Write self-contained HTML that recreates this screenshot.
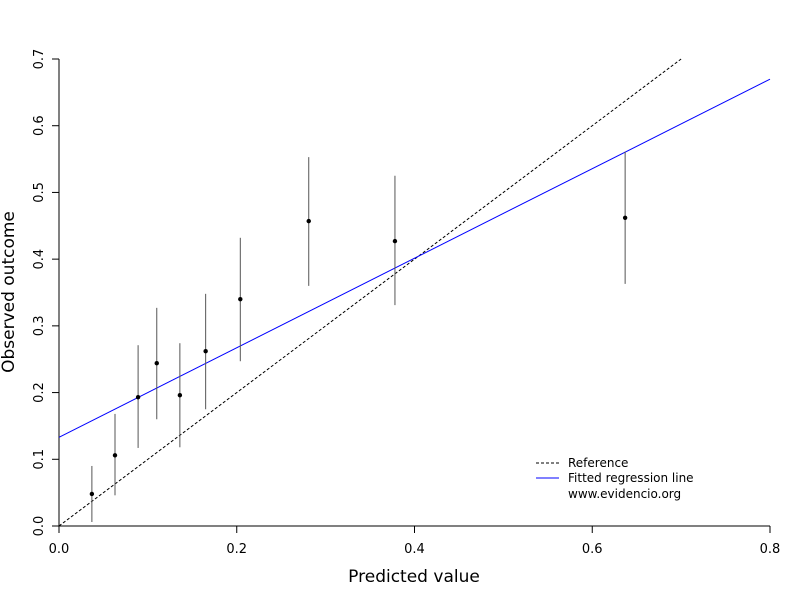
<!DOCTYPE html>
<html><head><meta charset="utf-8"><style>
body{margin:0;background:#fff}
svg text{font-family:"DejaVu Sans","Liberation Sans",sans-serif;fill:#000}
</style></head><body>
<svg id="chart" width="800" height="600">
<g id="axes"></g><g id="marks"></g>
<g>
<line x1="536" y1="463" x2="559" y2="463" stroke="#000" stroke-dasharray="3,2"/>
<text x="568" y="467" font-size="12">Reference</text>
<line x1="536" y1="478" x2="559" y2="478" stroke="#0000ff"/>
<text x="568" y="482" font-size="12">Fitted regression line</text>
<text x="568" y="498" font-size="12">www.evidencio.org</text>
</g>
<text x="414" y="582" font-size="17" text-anchor="middle">Predicted value</text>
<text transform="translate(14,292) rotate(-90)" font-size="17" text-anchor="middle">Observed outcome</text>
</svg>
<script>
const predicted=[0.037,0.063,0.089,0.110,0.136,0.165,0.204,0.281,0.378,0.637];
const observed=[0.048,0.106,0.193,0.244,0.196,0.262,0.340,0.457,0.427,0.462];
const lower=[0.006,0.046,0.117,0.160,0.118,0.175,0.247,0.360,0.331,0.363];
const upper=[0.090,0.168,0.271,0.327,0.274,0.348,0.432,0.553,0.525,0.561];
const xTicks=[0,0.2,0.4,0.6,0.8];
const xTickLabels=["0.0","0.2","0.4","0.6","0.8"];
const yTicks=[0,0.1,0.2,0.3,0.4,0.5,0.6,0.7];
const yTickLabels=["0.0","0.1","0.2","0.3","0.4","0.5","0.6","0.7"];
const fitIntercept=0.133, fitSlope=0.671;
const refRange=[0,0.7];
const X=v=>59+v/0.8*711, Y=v=>526-v/0.7*467;
const NS="http://www.w3.org/2000/svg";
function mk(parent,tag,attrs){const e=document.createElementNS(NS,tag);for(const k in attrs)e.setAttribute(k,attrs[k]);document.getElementById(parent).appendChild(e);return e;}
let e;
e=mk("axes","line",{x1:X(0),y1:526,x2:X(0.8),y2:526,stroke:"#000"});


e=mk("axes","line",{x1:59,y1:Y(0),x2:59,y2:Y(0.7),stroke:"#000"});


xTicks.forEach((t,i)=>{
 e=mk("axes","line",{x1:X(t),y1:526,x2:X(t),y2:533,stroke:"#000"});
 
 
 e=mk("axes","text",{x:X(t),y:553,"font-size":13,"text-anchor":"middle"});e.textContent=xTickLabels[i];
 
 
});
yTicks.forEach((t,i)=>{
 e=mk("axes","line",{x1:52,y1:Y(t),x2:59,y2:Y(t),stroke:"#000"});
 
 
 e=mk("axes","text",{transform:`translate(43,${Y(t)}) rotate(-90)`,"font-size":13,"text-anchor":"middle"});e.textContent=yTickLabels[i];
 
 
});
e=mk("marks","line",{x1:X(refRange[0]),y1:Y(refRange[0]),x2:X(refRange[1]),y2:Y(refRange[1]),stroke:"#000","stroke-dasharray":"3,2"});


e=mk("marks","line",{x1:X(0),y1:Y(fitIntercept),x2:X(0.8),y2:Y(fitIntercept+fitSlope*0.8),stroke:"#0000ff"});


predicted.forEach((p,i)=>{
 e=mk("marks","line",{x1:X(p),y1:Y(lower[i]),x2:X(p),y2:Y(upper[i]),stroke:"#555"});
 
 
 e=mk("marks","circle",{cx:X(p),cy:Y(observed[i]),r:2.2,fill:"#000"});
 
 
});
</script>
</body></html>
